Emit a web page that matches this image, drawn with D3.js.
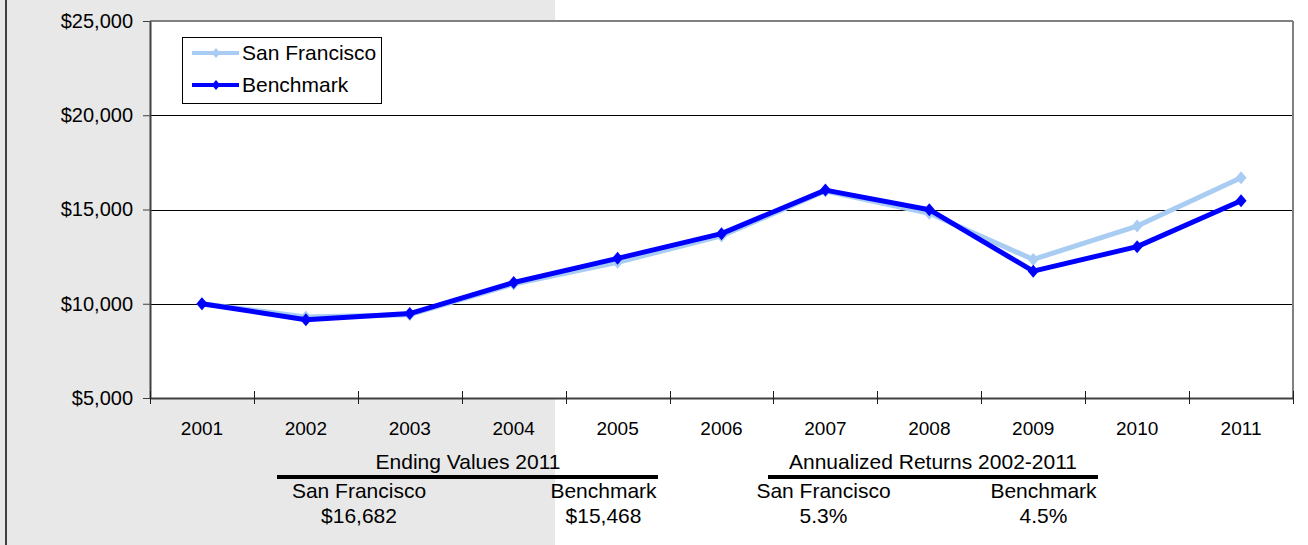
<!DOCTYPE html>
<html>
<head>
<meta charset="utf-8">
<script src="https://cdn.jsdelivr.net/npm/d3@7"></script>
<style>
  html, body { margin: 0; padding: 0; background: #ffffff; }
  svg { display: block; }
  text { font-family: "Liberation Sans", Arial, sans-serif; fill: #000; }
</style>
</head>
<body>
<svg id="chart" width="1308" height="545"></svg>
<script>
// ---- data ----
const years = ["2001","2002","2003","2004","2005","2006","2007","2008","2009","2010","2011"];
const sanFrancisco = [10000, 9300, 9420, 11050, 12200, 13600, 15980, 14800, 12350, 14120, 16682];
const benchmark    = [10000, 9150, 9480, 11130, 12410, 13720, 16030, 14990, 11730, 13030, 15468];
const seriesNames = ["San Francisco", "Benchmark"];
const yTickValues = [5000, 10000, 15000, 20000, 25000];
const gridValues = [10000, 15000, 20000];
const tableHeaders = ["Ending Values 2011", "Annualized Returns 2002-2011"];
const endingValues = ["$16,682", "$15,468"];
const annualizedReturns = ["5.3%", "4.5%"];

// ---- layout ----
const W = 1308, H = 545;
const plot = { left: 150, right: 1293, top: 21, bottom: 398 };
const colors = { sf: "#a9cdf2", bm: "#0000ff" };
const FONT = '"Liberation Sans", Arial, sans-serif';

const svg = d3.select("#chart");

// background panels
svg.append("rect").attr("x", 0).attr("y", 0).attr("width", W).attr("height", H).attr("fill", "#ffffff");
svg.append("rect").attr("x", 0).attr("y", 0).attr("width", 555).attr("height", H).attr("fill", "#e8e8e8");
svg.append("line").attr("x1", 6).attr("x2", 6).attr("y1", 0).attr("y2", H)
   .attr("stroke", "#404040").attr("stroke-width", 2);

// plot area
svg.append("rect").attr("x", plot.left).attr("y", plot.top)
   .attr("width", plot.right - plot.left).attr("height", plot.bottom - plot.top)
   .attr("fill", "#ffffff");

const x = d3.scaleBand().domain(years).range([plot.left, plot.right]).padding(0);
const y = d3.scaleLinear().domain([5000, 25000]).range([plot.bottom, plot.top]);

// gridlines
svg.append("g").selectAll("line").data(gridValues).join("line")
   .attr("x1", plot.left).attr("x2", plot.right)
   .attr("y1", d => Math.round(y(d)) + 0.5).attr("y2", d => Math.round(y(d)) + 0.5)
   .attr("stroke", "#000").attr("stroke-width", 1);

// top and right border (gray)
svg.append("line").attr("x1", plot.left).attr("x2", plot.right).attr("y1", plot.top).attr("y2", plot.top)
   .attr("stroke", "#808080").attr("stroke-width", 2);
svg.append("line").attr("x1", plot.right).attr("x2", plot.right).attr("y1", plot.top).attr("y2", plot.bottom)
   .attr("stroke", "#808080").attr("stroke-width", 2);

// Y axis
const yAxis = d3.axisLeft(y).tickValues(yTickValues)
   .tickFormat(d => "$" + d3.format(",")(d)).tickSize(7).tickSizeOuter(0).tickPadding(10);
const gy = svg.append("g").attr("transform", `translate(${plot.left},0)`).call(yAxis);
gy.select(".domain").attr("stroke", "#404040").attr("stroke-width", 2);
gy.selectAll(".tick line").attr("stroke", "#404040").attr("stroke-width", 1);
gy.selectAll(".tick text").attr("font-size", 20).attr("font-family", FONT).attr("fill", "#000");

// X axis
const xAxis = d3.axisBottom(x).tickSize(0).tickSizeOuter(0).tickPadding(24);
const gx = svg.append("g").attr("transform", `translate(0,${plot.bottom})`).call(xAxis);
gx.select(".domain").attr("stroke", "#404040").attr("stroke-width", 2);
gx.selectAll(".tick text").attr("font-size", 19).attr("font-family", FONT).attr("fill", "#000");
// category boundary tick marks (cross style)
const boundaries = years.map(c => x(c)).concat([x.range()[1]]);
svg.append("g").selectAll("line").data(boundaries).join("line")
   .attr("x1", d => Math.round(d) + 0.5).attr("x2", d => Math.round(d) + 0.5)
   .attr("y1", plot.bottom - 7).attr("y2", plot.bottom + 6)
   .attr("stroke", "#202020").attr("stroke-width", 1);

// series
const cx = (i) => x(years[i]) + x.bandwidth() / 2;
const line = d3.line().x((d, i) => cx(i)).y(d => y(d));
const diamond = (s) => `M0,${-s}L${s*0.85},0L0,${s}L${-s*0.85},0Z`;

function drawSeries(values, color) {
  svg.append("path").datum(values).attr("d", line)
     .attr("fill", "none").attr("stroke", color).attr("stroke-width", 5)
     .attr("stroke-linejoin", "round");
  svg.append("g").selectAll("path").data(values).join("path")
     .attr("transform", (d, i) => `translate(${cx(i)},${y(d)})`)
     .attr("d", diamond(6.5)).attr("fill", color);
}
drawSeries(sanFrancisco, colors.sf);
drawSeries(benchmark, colors.bm);

// legend
const lg = svg.append("g");
lg.append("rect").attr("x", 182.5).attr("y", 37.5).attr("width", 199).attr("height", 66)
  .attr("fill", "#fff").attr("stroke", "#000").attr("stroke-width", 1);
const legendItems = [{ name: seriesNames[0], color: colors.sf, y: 53 }, { name: seriesNames[1], color: colors.bm, y: 85 }];
legendItems.forEach(it => {
  lg.append("line").attr("x1", 192).attr("x2", 239).attr("y1", it.y).attr("y2", it.y)
    .attr("stroke", it.color).attr("stroke-width", 4);
  lg.append("path").attr("transform", `translate(216,${it.y})`).attr("d", diamond(5)).attr("fill", it.color);
  lg.append("text").attr("x", 242).attr("y", it.y + 7).attr("font-size", 21).text(it.name);
});

// summary table
const tbl = svg.append("g").attr("font-size", 21);
const groups = [
  { header: tableHeaders[0], hx: 468, lx1: 277, lx2: 658, cols: [359, 603.5], vals: endingValues },
  { header: tableHeaders[1], hx: 933, lx1: 768, lx2: 1098, cols: [823.5, 1043.5], vals: annualizedReturns }
];
groups.forEach(g => {
  tbl.append("text").attr("x", g.hx).attr("y", 469).attr("text-anchor", "middle").text(g.header);
  tbl.append("line").attr("x1", g.lx1).attr("x2", g.lx2).attr("y1", 477).attr("y2", 477)
     .attr("stroke", "#000").attr("stroke-width", 4);
  g.cols.forEach((cxp, i) => {
    tbl.append("text").attr("x", cxp).attr("y", 497.5).attr("text-anchor", "middle").text(seriesNames[i]);
    tbl.append("text").attr("x", cxp).attr("y", 523).attr("text-anchor", "middle").text(g.vals[i]);
  });
});
</script>
</body>
</html>
